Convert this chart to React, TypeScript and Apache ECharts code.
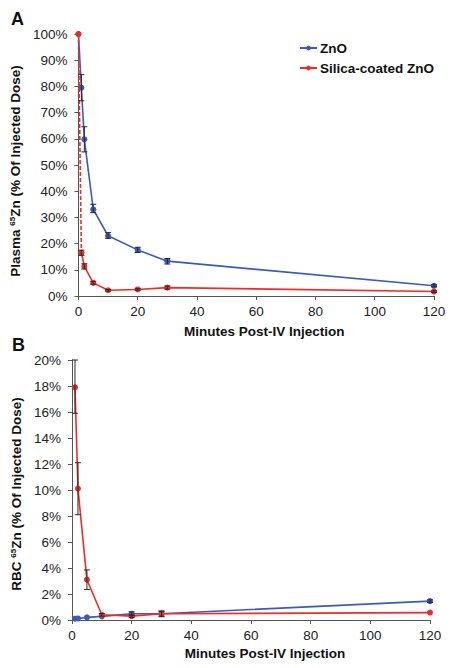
import React, { useEffect, useRef } from "react";
import * as echarts from "echarts";

const FONT = "'Liberation Sans', Arial, Helvetica, sans-serif";
const BLUE = "#3c59bd";
const RED = "#ee2b26";

// Panel A: plasma (% of injected dose)
const plasmaZnO: [number, number][] = [[0, 100], [1, 79.5], [2, 59.8], [5, 33.1], [10, 23], [20, 17.6], [30, 13.3], [120, 3.9]];
const plasmaZnOErr: [number, number, number][] = [[1, 74.5, 84.5], [2, 55, 64.6], [5, 31.8, 35], [10, 22, 24.2], [20, 16.6, 18.6], [30, 12.2, 14.3], [120, 3.5, 4.3]];
const plasmaSilicaDash: [number, number][] = [[0, 100], [1, 16.5]];
const plasmaSilica: [number, number][] = [[1, 16.5], [2, 11.3], [5, 5], [10, 2.2], [20, 2.5], [30, 3.2], [120, 1.7]];
const plasmaSilicaErr: [number, number, number][] = [[1, 15.5, 17.5], [2, 10.3, 12.3], [5, 4.5, 5.6], [10, 1.9, 2.5], [20, 2.2, 2.8], [30, 2.6, 3.8], [120, 1.4, 2]];

// Panel B: RBC (% of injected dose)
const rbcZnO: [number, number][] = [[1, 0.1], [2, 0.12], [5, 0.2], [10, 0.28], [20, 0.48], [30, 0.48], [120, 1.45]];
const rbcZnOErr: [number, number, number][] = [[20, 0.33, 0.63], [30, 0.3, 0.66], [120, 1.35, 1.55]];
const rbcSilica: [number, number][] = [[1, 17.9], [2, 10.1], [5, 3.1], [10, 0.4], [20, 0.3], [30, 0.48], [120, 0.57]];
const rbcSilicaErr: [number, number, number][] = [[1, 15.9, 20], [2, 8.1, 12.1], [5, 2.35, 3.85], [10, 0.3, 0.5], [20, 0.2, 0.4], [30, 0.25, 0.7]];

const xTicks = { min: 0, max: 120, interval: 20 };

function errorBars(name: string, data: [number, number, number][], xi: number, yi: number) {
  return {
    type: "custom",
    name,
    xAxisIndex: xi,
    yAxisIndex: yi,
    z: 5,
    silent: true,
    encode: { x: 0, y: [1, 2] },
    data,
    renderItem: (params: any, api: any) => {
      const x = api.value(0);
      const lo = api.coord([x, api.value(1)]);
      const hi = api.coord([x, api.value(2)]);
      const w = 3;
      const style = { stroke: "#2a2a2a", lineWidth: 1 };
      return {
        type: "group",
        children: [
          { type: "line", shape: { x1: lo[0], y1: lo[1], x2: hi[0], y2: hi[1] }, style },
          { type: "line", shape: { x1: lo[0] - w, y1: lo[1], x2: lo[0] + w, y2: lo[1] }, style },
          { type: "line", shape: { x1: hi[0] - w, y1: hi[1], x2: hi[0] + w, y2: hi[1] }, style },
        ],
      };
    },
  };
}

function lineSeries(name: string, data: [number, number][], color: string, xi: number, yi: number, z = 3, dashed = false) {
  return {
    type: "line",
    name,
    xAxisIndex: xi,
    yAxisIndex: yi,
    data,
    z,
    symbol: "circle",
    symbolSize: 6,
    showSymbol: true,
    lineStyle: { color, width: 1.6, type: dashed ? [4, 2] : "solid" },
    itemStyle: { color },
  };
}

const axisLine = { show: true, lineStyle: { color: "#555", width: 1 } };
const axisTick = { show: true, inside: false, length: 4, lineStyle: { color: "#555" } };
const labelStyle = { color: "#222", fontSize: 13.5, fontFamily: FONT };
const nameStyleBase = { color: "#111", fontSize: 13.5, fontWeight: "bold", fontFamily: FONT };

export default function App() {
  const ref = useRef<HTMLDivElement>(null);
  useEffect(() => {
    if (!ref.current) return;
    const chart = echarts.init(ref.current, undefined, { renderer: "svg" });
    chart.setOption({
      animation: false,
      backgroundColor: "#fff",
      textStyle: { fontFamily: FONT },
      title: [
        { text: "A", left: 6, top: 5, textStyle: { fontSize: 18, fontWeight: "bold", color: "#111", fontFamily: FONT } },
        { text: "B", left: 7, top: 331, textStyle: { fontSize: 18, fontWeight: "bold", color: "#111", fontFamily: FONT } },
      ],
      legend: {
        data: ["ZnO", "Silica-coated ZnO"],
        orient: "vertical",
        left: 294,
        top: 36,
        itemWidth: 17,
        itemHeight: 6,
        itemGap: 6,
        textStyle: { color: "#111", fontSize: 13.5, fontWeight: "bold", fontFamily: FONT, padding: [0, 0, 0, -2] },
      },
      grid: [
        { left: 74, top: 34, width: 360, height: 262 },
        { left: 72, top: 360, width: 358, height: 260 },
      ],
      xAxis: [
        {
          type: "value", gridIndex: 0, ...xTicks,
          axisLine, axisTick, splitLine: { show: false },
          axisLabel: { ...labelStyle, margin: 8 },
          name: "Minutes Post-IV Injection", nameLocation: "middle", nameGap: 28,
          nameTextStyle: { ...nameStyleBase, padding: [0, 0, 0, 16] },
        },
        {
          type: "value", gridIndex: 1, ...xTicks,
          axisLine, axisTick, splitLine: { show: false },
          axisLabel: { ...labelStyle, margin: 8 },
          name: "Minutes Post-IV Injection", nameLocation: "middle", nameGap: 26,
          nameTextStyle: { ...nameStyleBase, padding: [0, 0, 0, 28] },
        },
      ],
      yAxis: [
        {
          type: "value", gridIndex: 0, min: 0, max: 100, interval: 10,
          axisLine, axisTick, splitLine: { show: false },
          axisLabel: { ...labelStyle, margin: 11, formatter: "{value}%" },
          name: "Plasma {sup|65}Zn (% Of Injected Dose)", nameLocation: "middle", nameGap: 49, nameRotate: 90,
          nameTextStyle: {
            ...nameStyleBase, padding: [0, 12, 0, 0],
            rich: { sup: { fontSize: 8, fontWeight: "bold", color: "#111", fontFamily: FONT, verticalAlign: "top", padding: [0, 0, 6, 0] } },
          },
        },
        {
          type: "value", gridIndex: 1, min: 0, max: 20, interval: 2,
          axisLine, axisTick, splitLine: { show: false },
          axisLabel: { ...labelStyle, margin: 11, formatter: "{value}%" },
          name: "RBC {sup|65}Zn (% Of Injected Dose)", nameLocation: "middle", nameGap: 47, nameRotate: 90,
          nameTextStyle: {
            ...nameStyleBase, padding: [0, 8, 0, 0],
            rich: { sup: { fontSize: 8, fontWeight: "bold", color: "#111", fontFamily: FONT, verticalAlign: "top", padding: [0, 0, 6, 0] } },
          },
        },
      ],
      series: [
        lineSeries("ZnO", plasmaZnO, BLUE, 0, 0, 3),
        lineSeries("Silica-coated ZnO", plasmaSilica, RED, 0, 0, 4),
        lineSeries("silica-start", plasmaSilicaDash, RED, 0, 0, 4, true),
        errorBars("err-a-zno", plasmaZnOErr, 0, 0),
        errorBars("err-a-silica", plasmaSilicaErr, 0, 0),
        lineSeries("ZnO", rbcZnO, BLUE, 1, 1, 3),
        lineSeries("Silica-coated ZnO", rbcSilica, RED, 1, 1, 4),
        errorBars("err-b-zno", rbcZnOErr, 1, 1),
        errorBars("err-b-silica", rbcSilicaErr, 1, 1),
      ],
    });
    return () => chart.dispose();
  }, []);
  return (
    <div
      ref={ref}
      style={{ position: "fixed", left: 0, top: 0, width: 452, height: 668, background: "#fff" }}
    />
  );
}
